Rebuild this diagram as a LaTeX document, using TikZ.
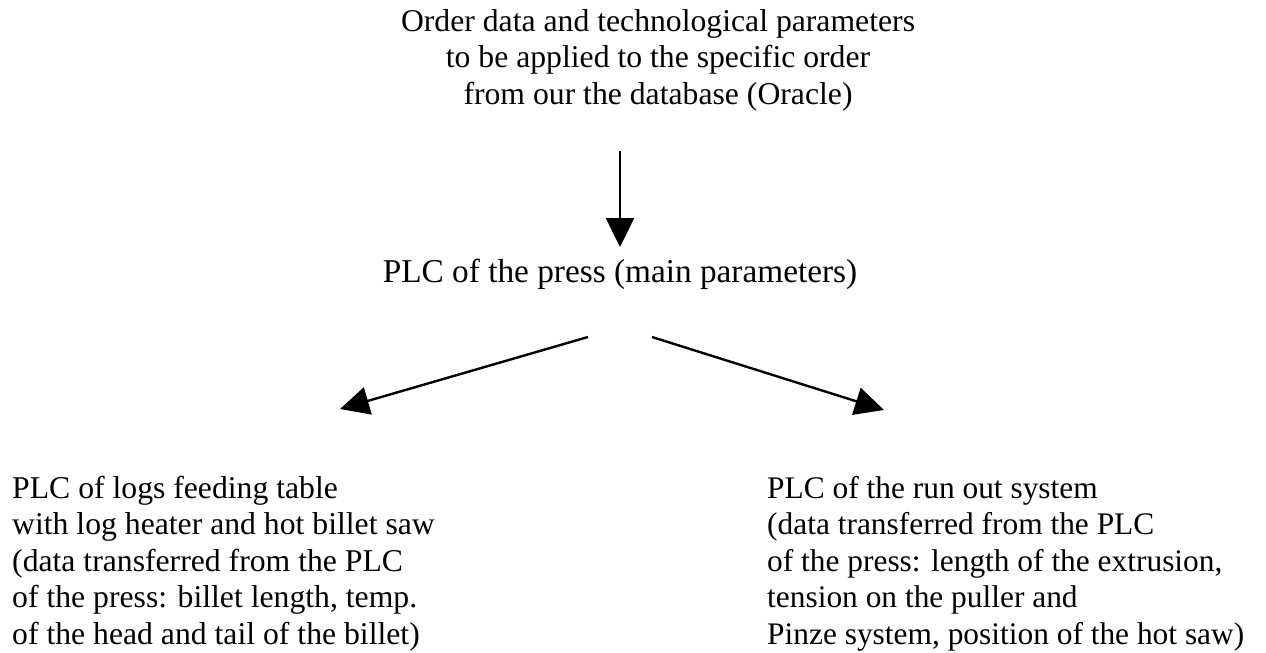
\documentclass[tikz,border=0pt]{standalone}
\usepackage{fontspec}
\setmainfont{Liberation Serif}
\usetikzlibrary{arrows.meta}
\begin{document}
\begin{tikzpicture}[x=1pt,y=-1pt,
  txt/.style={inner sep=0pt,font=\fontsize{31.7}{36.5}\selectfont},
  flow/.style={line width=2.4pt,-{Triangle[length=29pt,width=28pt]}}]
\useasboundingbox (0,0) rectangle (1266,653);

% text blocks (the base anchor sits on the baseline of the last line)
\node[txt,align=center,anchor=base] (order) at (658,104)
  {Order data and technological parameters\\to be applied to the specific order\\from our the database (Oracle)};
\node[txt,anchor=base,font=\fontsize{33.3}{36.5}\selectfont] (press) at (620,282)
  {PLC of the press (main parameters)};
\node[txt,align=left,anchor=base west] (feed) at (12,644)
  {PLC of logs feeding table\\with log heater and hot billet saw\\(data transferred from the PLC\\of the press: billet length, temp.\\of the head and tail of the billet)};
\node[txt,align=left,anchor=base west,font=\fontsize{31.4}{36.5}\selectfont] (runout) at (767,644)
  {PLC of the run out system\\(data transferred from the PLC\\of the press: length of the extrusion,\\tension on the puller and\\Pinze system, position of the hot saw)};

% arrow end points
\coordinate (a1) at (620,151);
\coordinate (a2) at (620,247);
\coordinate (b1) at (588,337);
\coordinate (b2) at (340,409);
\coordinate (c1) at (652,337);
\coordinate (c2) at (884,410);

\draw[flow] (a1) -- (a2);
\draw[flow] (b1) -- (b2);
\draw[flow] (c1) -- (c2);
\end{tikzpicture}
\end{document}
